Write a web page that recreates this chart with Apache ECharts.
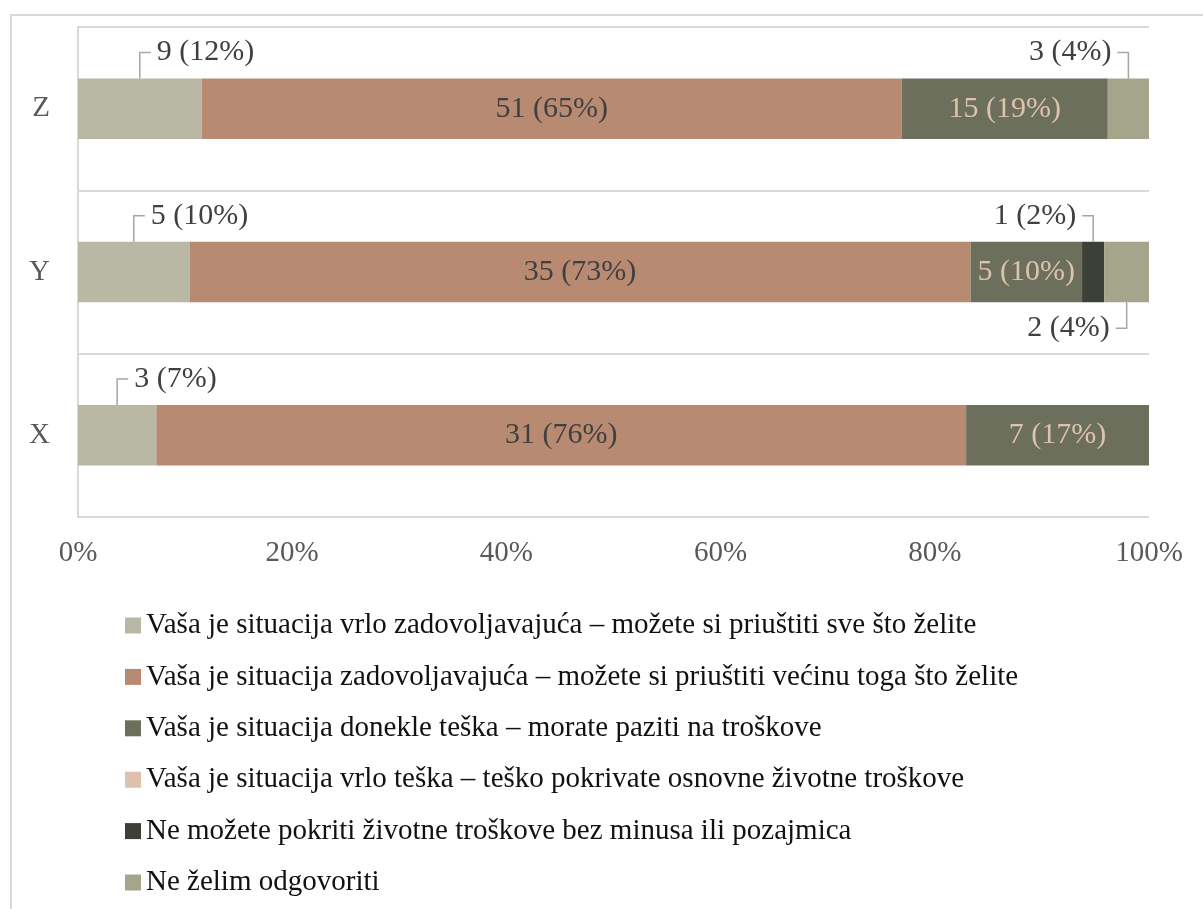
<!DOCTYPE html>
<html>
<head>
<meta charset="utf-8">
<script src="https://cdn.jsdelivr.net/npm/echarts@6/dist/echarts.min.js"></script>
<style>
  html, body { margin: 0; padding: 0; background: #fff; overflow: hidden; }
  #wrap { position: relative; width: 1203px; height: 909px; overflow: hidden; }
  #frame { position: absolute; left: 10px; top: 14px; width: 1400px; height: 1200px;
           border-left: 2px solid #D9D9D9; border-top: 2px solid #D9D9D9; }
  #main { position: absolute; left: 0; top: 0; width: 1203px; height: 909px; }
</style>
</head>
<body>
<div id="wrap">
  <div id="frame"></div>
  <div id="main"></div>
</div>
<script>
    // kategorije (odozdo prema gore)
    var categories = ['X', 'Y', 'Z'];

    var seriesNames = [
        'Vaša je situacija vrlo zadovoljavajuća – možete si priuštiti sve što želite',
        'Vaša je situacija zadovoljavajuća – možete si priuštiti većinu toga što želite',
        'Vaša je situacija donekle teška – morate paziti na troškove',
        'Vaša je situacija vrlo teška – teško pokrivate osnovne životne troškove',
        'Ne možete pokriti životne troškove bez minusa ili pozajmica',
        'Ne želim odgovoriti'
    ];

    // broj odgovora po kategoriji [X, Y, Z]
    var vrloZadovoljavajuca = [3, 5, 9];
    var zadovoljavajuca = [31, 35, 51];
    var doneKleTeska = [7, 5, 15];
    var vrloTeska = [0, 0, 0];
    var bezMinusa = [0, 1, 0];
    var neZelim = [0, 2, 3];

    var counts = [vrloZadovoljavajuca, zadovoljavajuca, doneKleTeska, vrloTeska, bezMinusa, neZelim];

    var colors = ['#B8B8A4', '#B88A72', '#6B6F5C', '#DEC0AC', '#3D4036', '#A5A58C'];

    // oznake izvan stupaca: [serija, kategorija, smjer gore(-1)/dolje(1), lijevo(-1)/desno(1)]
    var callouts = [
        [0, 0, -1, 1],
        [0, 1, -1, 1],
        [0, 2, -1, 1],
        [4, 1, -1, -1],
        [5, 1, 1, -1],
        [5, 2, -1, -1]
    ];

    var FONT = 'Liberation Serif';
    var BAR_RATIO = 0.37;

    var totals = categories.map(function (c, i) {
        return counts.reduce(function (s, arr) { return s + arr[i]; }, 0);
    });
    var percents = counts.map(function (arr) {
        return arr.map(function (v, i) { return v / totals[i] * 100; });
    });
    function labelText(si, ci) {
        return counts[si][ci] + ' (' + Math.round(percents[si][ci]) + '%)';
    }

    var barSeries = seriesNames.map(function (name, si) {
        var inside = (si === 1 || si === 2);
        return {
            name: name,
            type: 'bar',
            stack: 'total',
            barWidth: (BAR_RATIO * 100) + '%',
            itemStyle: { color: colors[si] },
            emphasis: { disabled: true },
            label: {
                show: inside,
                position: 'inside',
                fontFamily: FONT,
                fontSize: 30,
                color: si === 2 ? '#DDC3AE' : '#404040',
                formatter: function (p) { return labelText(si, p.dataIndex); }
            },
            data: percents[si]
        };
    });

    // pocetak i kraj segmenta za oznake s linijom
    var calloutData = callouts.map(function (c) {
        var si = c[0], ci = c[1];
        var start = 0;
        for (var k = 0; k < si; k++) start += percents[k][ci];
        return [start, start + percents[si][ci], ci, c[2], c[3]];
    });

    var calloutSeries = {
        type: 'custom',
        name: 'callouts',
        silent: true,
        z: 5,
        encode: { x: [0, 1], y: 2 },
        data: calloutData,
        renderItem: function (params, api) {
            var c = callouts[params.dataIndex];
            var p0 = api.coord([api.value(0), api.value(2)]);
            var p1 = api.coord([api.value(1), api.value(2)]);
            var dirY = api.value(3), dirX = api.value(4);
            var mid = (p0[0] + p1[0]) / 2;
            var half = api.size([0, 1])[1] * BAR_RATIO / 2;
            var yEdge = p0[1] + dirY * half;
            var yLbl = yEdge + dirY * 26;
            var xElbow = mid + dirX * 11;
            return {
                type: 'group',
                children: [{
                    type: 'polyline',
                    shape: { points: [[mid, yEdge], [mid, yLbl], [xElbow, yLbl]] },
                    style: { stroke: '#A6A6A6', lineWidth: 1.5, fill: null }
                }, {
                    type: 'text',
                    style: {
                        text: labelText(c[0], c[1]),
                        x: xElbow + dirX * 6,
                        y: yLbl,
                        align: dirX > 0 ? 'left' : 'right',
                        verticalAlign: 'middle',
                        fontFamily: FONT,
                        fontSize: 30,
                        fill: '#404040'
                    }
                }]
            };
        }
    };

    var myChart = echarts.init(document.getElementById('main'), null, { renderer: 'canvas' });
    var option = {
        animation: false,
        color: colors,
        grid: { left: 78, right: 54, top: 27, bottom: 392, containLabel: false },
        xAxis: {
            type: 'value',
            min: 0,
            max: 100,
            interval: 20,
            axisLine: { show: false },
            axisTick: { show: false },
            splitLine: { show: false },
            axisLabel: {
                formatter: '{value}%',
                fontFamily: FONT,
                fontSize: 29,
                color: '#595959',
                margin: 22
            }
        },
        yAxis: {
            type: 'category',
            data: categories,
            axisLine: { show: true, lineStyle: { color: '#D9D9D9', width: 2 } },
            axisTick: { show: false },
            splitLine: { show: true, lineStyle: { color: '#D9D9D9', width: 2 } },
            axisLabel: {
                fontFamily: FONT,
                fontSize: 29,
                color: '#595959',
                margin: 28
            }
        },
        legend: {
            data: seriesNames,
            orient: 'vertical',
            left: 125,
            top: 611,
            padding: 0,
            icon: 'rect',
            itemWidth: 16,
            itemHeight: 16,
            itemGap: 22.4,
            selectedMode: false,
            textStyle: {
                fontFamily: FONT,
                fontSize: 29,
                color: '#111111'
            }
        },
        series: barSeries.concat([calloutSeries])
    };
    myChart.setOption(option);
</script>
</body>
</html>
